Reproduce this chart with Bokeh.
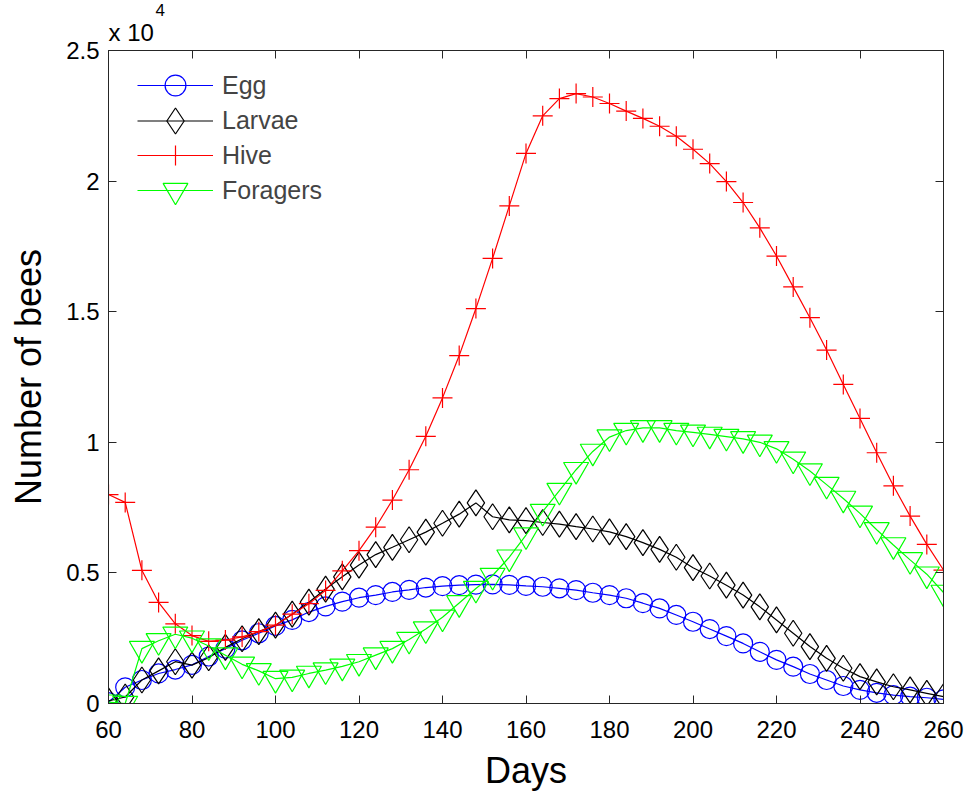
from bokeh.plotting import figure
from bokeh.models import Range1d, LinearAxis, FixedTicker, Legend, LegendItem, Title
from bokeh.embed import file_html
from bokeh.resources import INLINE

# ---- data ----
days = [60, 64, 68, 72, 76, 80, 84, 88, 92, 96, 100, 104, 108, 112, 116, 120, 124, 128,
        132, 136, 140, 144, 148, 152, 156, 160, 164, 168, 172, 176, 180, 184, 188, 192,
        196, 200, 204, 208, 212, 216, 220, 224, 228, 232, 236, 240, 244, 248, 252, 256, 260]

egg = [50, 620, 900, 1150, 1300, 1480, 1800, 2100, 2420, 2690, 2970, 3200, 3500, 3720,
       3900, 4050, 4150, 4270, 4350, 4440, 4490, 4530, 4550, 4560, 4540, 4500, 4470, 4410,
       4340, 4240, 4150, 4030, 3840, 3640, 3390, 3130, 2850, 2580, 2300, 1980, 1670, 1410,
       1130, 900, 670, 520, 410, 320, 260, 220, 160]

larvae = [100, 250, 900, 1250, 1600, 1470, 1750, 2150, 2480, 2750, 3000, 3420, 3880, 4380,
          4850, 5300, 5700, 5980, 6270, 6560, 6900, 7250, 7680, 7150, 7030, 7000, 6930, 6870,
          6770, 6680, 6570, 6390, 6160, 5900, 5600, 5200, 4880, 4530, 4150, 3700, 3200, 2690,
          2180, 1730, 1350, 1030, 830, 640, 520, 390, 260]

hive = [8000, 7700, 5100, 3870, 3050, 2600, 2380, 2430, 2550, 2750, 3000, 3420, 3820, 4330,
        5080, 5850, 6750, 7790, 8950, 10230, 11700, 13320, 15120, 17040, 19050, 21060, 22500,
        23160, 23350, 23220, 22970, 22680, 22400, 22100, 21720, 21220, 20670, 19980, 19180,
        18210, 17130, 15950, 14770, 13530, 12215, 10915, 9600, 8335, 7175, 6090, 5110]

foragers = [50, 0, 2100, 2400, 2650, 2500, 2200, 1850, 1500, 1250, 950, 1000, 1150, 1280,
            1420, 1600, 1850, 2100, 2450, 2850, 3300, 3850, 4400, 4900, 5600, 6450, 7350, 8150,
            8950, 9650, 10200, 10450, 10550, 10550, 10450, 10380, 10300, 10220, 10130, 10000,
            9750, 9350, 8900, 8380, 7850, 7280, 6650, 6070, 5500, 4950, 4250]

x_ticks = [60, 80, 100, 120, 140, 160, 180, 200, 220, 240, 260]
y_ticks = [0, 5000, 10000, 15000, 20000, 25000]
y_tick_labels = ["0", "0.5", "1", "1.5", "2", "2.5"]

series_names = ["Egg", "Larvae", "Hive", "Foragers"]
series_colors = ["#0000ff", "#000000", "#ff0000", "#00ff00"]
series_markers = ["circle", "diamond", "cross", "inverted_triangle"]
series_sizes = [19, 26, 20, 25]
legend_glyph_heights = [52, 65, 50, 62]   # legend marker size = 0.4 * glyph height

FONT = "Liberation Sans"
AX = "#262626"
FW, FH = 835, 653

p = figure(frame_width=FW, frame_height=FH,
           x_range=Range1d(60, 260), y_range=Range1d(0, 25000),
           output_backend="svg", toolbar_location=None,
           min_border_left=108, min_border_right=30, min_border_top=50, min_border_bottom=88,
           x_axis_label="Days", y_axis_label="Number of bees")
p.xgrid.visible = False
p.ygrid.visible = False
p.outline_line_color = AX
p.outline_line_width = 1
p.background_fill_color = "white"
p.border_fill_color = "white"

p.xaxis.ticker = FixedTicker(ticks=x_ticks)
p.yaxis.ticker = FixedTicker(ticks=y_ticks)
p.yaxis.major_label_overrides = {t: l for t, l in zip(y_ticks, y_tick_labels)}

for ax in [p.xaxis[0], p.yaxis[0]]:
    ax.major_tick_in = 8
    ax.major_tick_out = 0
    ax.minor_tick_in = 0
    ax.minor_tick_out = 0
    ax.axis_line_color = AX
    ax.major_tick_line_color = AX
    ax.major_label_text_font = FONT
    ax.major_label_text_font_size = "24px"
    ax.major_label_text_color = "black"
    ax.axis_label_text_font = FONT
    ax.axis_label_text_font_size = "36px"
    ax.axis_label_text_font_style = "normal"
    ax.axis_label_text_color = "black"

p.xaxis.major_label_standoff = 17
p.yaxis.major_label_standoff = 9
p.xaxis.axis_label_standoff = 9
p.yaxis.axis_label_standoff = 14

top = LinearAxis(ticker=FixedTicker(ticks=x_ticks),
                 major_label_overrides={t: "" for t in x_ticks},
                 major_tick_in=8, major_tick_out=0, minor_tick_in=0, minor_tick_out=0,
                 axis_line_color=AX, major_tick_line_color=AX, major_label_standoff=0)
right = LinearAxis(ticker=FixedTicker(ticks=y_ticks),
                   major_label_overrides={t: "" for t in y_ticks},
                   major_tick_in=8, major_tick_out=0, minor_tick_in=0, minor_tick_out=0,
                   axis_line_color=AX, major_tick_line_color=AX, major_label_standoff=0)
p.add_layout(top, "above")
p.add_layout(right, "right")

# axis multiplier "x 10^4"
p.add_layout(Title(text="x 10", align="left", offset=0, standoff=9,
                   text_font=FONT, text_font_size="24px", text_font_style="normal",
                   text_color="black"), "above")
p.add_layout(Title(text="4", align="left", offset=47, standoff=-7,
                   text_font=FONT, text_font_size="17px", text_font_style="normal",
                   text_color="black"), "above")

row_centers = [35, 70, 105, 140]   # px below the frame top
for name, ys, col, mk, sz, gh, rc in zip(series_names, [egg, larvae, hive, foragers],
                                         series_colors, series_markers, series_sizes,
                                         legend_glyph_heights, row_centers):
    l = p.line(days, ys, line_color=col, line_width=1.2)
    s = p.scatter(days, ys, marker=mk, size=sz, fill_color=None, line_color=col, line_width=1.2)
    lg = Legend(items=[LegendItem(label=name, renderers=[l, s])],
                location=(29, int(round(FH - rc - gh / 2))),
                glyph_width=76, glyph_height=gh, label_height=30,
                spacing=0, padding=0, margin=0, label_standoff=9,
                label_text_font=FONT, label_text_font_size="25px",
                border_line_alpha=0, background_fill_alpha=0)
    p.add_layout(lg, "center")

open("out.html", "w").write(file_html(p, INLINE))
